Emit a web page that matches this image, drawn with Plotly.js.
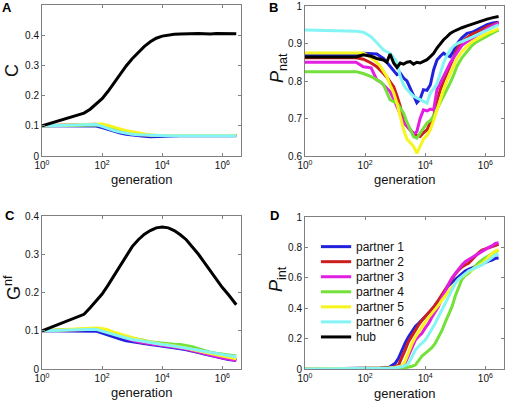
<!DOCTYPE html>
<html>
<head>
<meta charset="utf-8">
<script src="https://cdn.plot.ly/plotly-3.0.1.min.js"></script>
<style>html,body{margin:0;padding:0;background:#fff;}#chart{width:506px;height:403px;}</style>
</head>
<body>
<div id="chart"></div>
<script>
// ---------- DATA ----------
const seriesNames = ["partner 1", "partner 2", "partner 3", "partner 4", "partner 5", "partner 6", "hub"];
const seriesColors = ["#2222dd", "#cc1f1f", "#e31ee3", "#74e03a", "#f6f61e", "#84f4f4", "#000000"];

// Panels A and C: generation grid
const genAC = [1, 25, 40, 63, 100, 160, 250, 400, 630, 1000, 1600, 2500, 4000, 6300, 1e4, 1.6e4, 2.5e4, 4e4, 6.3e4, 1e5, 1.6e5, 2.5e5, 4e5, 6.3e5, 1e6, 1.6e6, 2.5e6, 2.9e6];

// Panel A: C
const aP1 = [0.100,0.100,0.100,0.099,0.094,0.088,0.081,0.076,0.072,0.069,0.066,0.065,0.064,0.065,0.066,0.067,0.067,0.067,0.067,0.067,0.067,0.067,0.067,0.067,0.067,0.067,0.067,0.067];
const aP2 = [0.100,0.102,0.103,0.104,0.100,0.095,0.089,0.083,0.078,0.074,0.071,0.069,0.068,0.068,0.068,0.068,0.068,0.068,0.068,0.068,0.068,0.068,0.068,0.068,0.068,0.068,0.068,0.068];
const aP3 = [0.100,0.102,0.104,0.105,0.102,0.097,0.091,0.085,0.080,0.076,0.073,0.070,0.069,0.068,0.068,0.068,0.068,0.068,0.068,0.068,0.068,0.068,0.068,0.068,0.068,0.068,0.068,0.068];
const aP4 = [0.100,0.103,0.104,0.105,0.103,0.098,0.092,0.086,0.081,0.077,0.073,0.071,0.069,0.068,0.068,0.068,0.068,0.068,0.068,0.068,0.068,0.068,0.068,0.068,0.068,0.068,0.068,0.068];
const aP5 = [0.100,0.104,0.106,0.107,0.106,0.101,0.095,0.089,0.084,0.080,0.076,0.073,0.070,0.069,0.068,0.068,0.068,0.068,0.068,0.068,0.068,0.068,0.068,0.068,0.068,0.068,0.068,0.068];
const aP6 = [0.100,0.104,0.105,0.104,0.098,0.090,0.084,0.079,0.075,0.072,0.070,0.069,0.068,0.067,0.067,0.067,0.067,0.067,0.067,0.067,0.067,0.067,0.067,0.067,0.067,0.067,0.067,0.067];
const aHub = [0.100,0.142,0.155,0.172,0.190,0.215,0.243,0.270,0.298,0.322,0.344,0.362,0.378,0.390,0.397,0.401,0.403,0.404,0.405,0.404,0.406,0.405,0.404,0.406,0.405,0.404,0.405,0.405];

// Panel C: G^nf
const cP1 = [0.100,0.100,0.100,0.099,0.094,0.088,0.082,0.078,0.074,0.071,0.068,0.066,0.064,0.062,0.060,0.058,0.056,0.053,0.050,0.047,0.043,0.039,0.035,0.031,0.028,0.025,0.023,0.022];
const cP2 = [0.100,0.102,0.103,0.104,0.101,0.096,0.090,0.085,0.080,0.076,0.072,0.069,0.067,0.065,0.063,0.061,0.059,0.056,0.053,0.049,0.045,0.041,0.037,0.034,0.031,0.028,0.026,0.025];
const cP3 = [0.100,0.102,0.104,0.105,0.103,0.098,0.092,0.086,0.080,0.075,0.071,0.068,0.066,0.064,0.062,0.060,0.058,0.055,0.052,0.048,0.044,0.040,0.036,0.032,0.029,0.026,0.024,0.023];
const cP4 = [0.100,0.104,0.105,0.105,0.103,0.098,0.093,0.089,0.085,0.081,0.077,0.074,0.071,0.069,0.067,0.066,0.065,0.064,0.062,0.058,0.053,0.048,0.044,0.041,0.039,0.037,0.035,0.034];
const cP5 = [0.100,0.105,0.107,0.107,0.106,0.102,0.096,0.091,0.086,0.081,0.077,0.073,0.070,0.067,0.065,0.063,0.061,0.058,0.055,0.051,0.047,0.043,0.040,0.037,0.034,0.031,0.028,0.027];
const cP6 = [0.100,0.104,0.105,0.104,0.099,0.094,0.089,0.085,0.081,0.077,0.074,0.071,0.068,0.066,0.064,0.062,0.060,0.058,0.055,0.052,0.049,0.046,0.043,0.040,0.037,0.035,0.033,0.032];
const cHub = [0.100,0.143,0.160,0.178,0.196,0.220,0.245,0.272,0.297,0.320,0.338,0.352,0.362,0.369,0.371,0.369,0.362,0.351,0.338,0.320,0.300,0.279,0.256,0.233,0.213,0.194,0.174,0.168];

// Panel B: P_nat
const genB = [1, 50, 87, 158, 245, 316, 407, 525, 676, 891, 1148, 1479, 1905, 2455, 3162, 4074, 5248, 6761, 8710, 11480, 14790, 19050, 24550, 31620, 40740, 52480, 67610, 87100, 114800, 166000, 245500, 363100, 524800, 776200, 1148000, 1778000, 2754000];
const bP1 = [0.870,0.870,0.874,0.873,0.872,0.866,0.860,0.850,0.839,0.828,0.817,0.821,0.808,0.800,0.780,0.759,0.742,0.752,0.777,0.775,0.790,0.830,0.856,0.866,0.874,0.868,0.865,0.880,0.900,0.915,0.927,0.930,0.936,0.944,0.950,0.955,0.957];
const bP2 = [0.862,0.862,0.858,0.848,0.838,0.830,0.820,0.810,0.797,0.785,0.760,0.732,0.690,0.680,0.672,0.660,0.655,0.652,0.662,0.670,0.690,0.706,0.745,0.777,0.800,0.821,0.845,0.865,0.885,0.905,0.915,0.925,0.930,0.938,0.945,0.950,0.955];
const bP3 = [0.850,0.850,0.838,0.835,0.803,0.798,0.790,0.782,0.772,0.752,0.730,0.712,0.690,0.680,0.668,0.658,0.665,0.700,0.723,0.720,0.725,0.723,0.777,0.795,0.812,0.830,0.848,0.862,0.875,0.895,0.905,0.915,0.922,0.930,0.940,0.948,0.955];
const bP4 = [0.825,0.825,0.820,0.812,0.803,0.798,0.790,0.770,0.750,0.745,0.741,0.728,0.714,0.690,0.670,0.652,0.648,0.661,0.672,0.688,0.695,0.706,0.725,0.742,0.760,0.778,0.795,0.815,0.840,0.862,0.880,0.895,0.905,0.912,0.918,0.928,0.936];
const bP5 = [0.875,0.875,0.875,0.862,0.850,0.840,0.826,0.812,0.790,0.768,0.740,0.706,0.670,0.645,0.635,0.626,0.607,0.625,0.645,0.655,0.670,0.695,0.723,0.750,0.777,0.800,0.820,0.840,0.860,0.878,0.893,0.905,0.912,0.920,0.927,0.933,0.940];
const bP6 = [0.936,0.933,0.930,0.918,0.902,0.893,0.883,0.878,0.874,0.862,0.850,0.812,0.790,0.777,0.768,0.759,0.755,0.750,0.745,0.741,0.768,0.780,0.792,0.820,0.848,0.868,0.883,0.893,0.900,0.905,0.910,0.917,0.923,0.930,0.936,0.943,0.950];
const bHub = [0.864,0.864,0.870,0.866,0.860,0.858,0.856,0.850,0.872,0.848,0.836,0.848,0.845,0.850,0.852,0.845,0.850,0.848,0.852,0.857,0.865,0.874,0.888,0.900,0.910,0.918,0.927,0.932,0.937,0.942,0.947,0.952,0.956,0.960,0.965,0.969,0.972];

// Panel D: P_int
const genD = [1, 10, 100, 316, 631, 1000, 1288, 1660, 2138, 2754, 3631, 4677, 6026, 7762, 1e4, 12880, 16600, 21380, 27540, 36310, 46770, 60260, 77620, 1e5, 128800, 166000, 213800, 275400, 363100, 467700, 602600, 776200, 1e6, 1288000, 1660000, 2138000, 2754000];
const dP1 = [0,0.001,0.003,0.006,0.012,0.037,0.070,0.124,0.170,0.210,0.250,0.280,0.300,0.322,0.345,0.370,0.390,0.420,0.450,0.480,0.520,0.550,0.570,0.590,0.610,0.630,0.645,0.655,0.665,0.675,0.685,0.695,0.705,0.710,0.717,0.728,0.730];
const dP2 = [0,0.001,0.003,0.005,0.008,0.015,0.026,0.070,0.124,0.180,0.220,0.257,0.290,0.320,0.344,0.370,0.395,0.420,0.454,0.490,0.530,0.563,0.595,0.625,0.651,0.672,0.685,0.695,0.720,0.745,0.765,0.783,0.790,0.800,0.805,0.815,0.820];
const dP3 = [0,0.001,0.002,0.004,0.006,0.010,0.015,0.022,0.037,0.090,0.147,0.190,0.215,0.235,0.270,0.300,0.340,0.380,0.410,0.470,0.520,0.560,0.600,0.630,0.660,0.685,0.706,0.720,0.735,0.748,0.760,0.775,0.790,0.800,0.810,0.826,0.830];
const dP4 = [0,0.001,0.001,0.002,0.003,0.004,0.005,0.006,0.008,0.012,0.018,0.026,0.060,0.085,0.103,0.120,0.140,0.168,0.210,0.256,0.310,0.360,0.410,0.480,0.540,0.590,0.615,0.630,0.655,0.680,0.700,0.717,0.730,0.745,0.760,0.772,0.780];
const dP5 = [0,0.001,0.002,0.004,0.006,0.010,0.014,0.020,0.050,0.110,0.168,0.210,0.245,0.278,0.310,0.340,0.366,0.390,0.420,0.454,0.485,0.515,0.540,0.565,0.590,0.607,0.625,0.640,0.651,0.665,0.680,0.695,0.715,0.740,0.760,0.775,0.785];
const dP6 = [0,0.001,0.002,0.003,0.005,0.008,0.011,0.015,0.022,0.037,0.080,0.124,0.150,0.170,0.190,0.225,0.260,0.300,0.345,0.390,0.432,0.475,0.520,0.563,0.590,0.610,0.630,0.645,0.655,0.665,0.673,0.685,0.700,0.715,0.730,0.750,0.755];

const xTickVals = [1, 100, 1e4, 1e6];
const xTickText = ["10<sup>0</sup>", "10<sup>2</sup>", "10<sup>4</sup>", "10<sup>6</sup>"];
const panelLetters = ["A", "B", "C", "D"];
const xTitle = "generation";
const yTitles = ["C", "<i>P</i><sub>nat</sub>", "G<sup>nf</sup>", "<i>P</i><sub>int</sub>"];

// ---------- BUILD ----------
const W = 506, H = 403;
const FONT = "Liberation Sans, Arial, Helvetica, sans-serif";
const traces = [];
function addPanel(xs, ys, xa, ya) {
  ys.forEach((y, i) => {
    traces.push({
      x: xs, y: y, xaxis: xa, yaxis: ya, type: "scatter", mode: "lines",
      line: {color: seriesColors[i], width: 3}, showlegend: false, hoverinfo: "skip"
    });
  });
}
addPanel(genAC, [aP1, aP2, aP3, aP4, aP5, aP6, aHub], "x", "y");
addPanel(genB, [bP1, bP2, bP3, bP4, bP5, bP6, bHub], "x2", "y2");
addPanel(genAC, [cP1, cP2, cP3, cP4, cP5, cP6, cHub], "x3", "y3");
addPanel(genD, [dP1, dP2, dP3, dP4, dP5, dP6], "x4", "y4");

// pixel boxes of the four plot areas [left, right, top, bottom]
const boxes = [[42, 241, 5, 156], [305, 504, 6, 156], [42, 241, 216, 369], [305, 504, 217, 369]];
const yRanges = [[0, 0.5], [0.6, 1.0], [0, 0.4], [0, 1]];
const yDticks = [0.1, 0.1, 0.1, 0.2];

const layout = {
  width: W, height: H, margin: {l: 0, r: 0, t: 0, b: 0},
  paper_bgcolor: "#fff", plot_bgcolor: "#fff", showlegend: false,
  font: {family: FONT, color: "#111", size: 10},
  annotations: [], shapes: []
};
const axColor = "#808080";
boxes.forEach((b, i) => {
  const n = i === 0 ? "" : String(i + 1);
  layout["xaxis" + n] = {
    type: "log", range: [0, 6.62], domain: [b[0] / W, b[1] / W], anchor: "y" + n,
    tickvals: xTickVals, ticktext: xTickText, ticks: "inside", ticklen: 3, tickcolor: axColor,
    showline: true, linecolor: axColor, linewidth: 1, mirror: "ticks", showgrid: false, zeroline: false,
    tickfont: {family: FONT, size: 10, color: "#111"}
  };
  layout["yaxis" + n] = {
    range: yRanges[i], dtick: yDticks[i], tick0: 0, domain: [1 - b[3] / H, 1 - b[2] / H], anchor: "x" + n,
    ticks: "inside", ticklen: 3, tickcolor: axColor,
    showline: true, linecolor: axColor, linewidth: 1, mirror: "ticks", showgrid: false, zeroline: false,
    tickfont: {family: FONT, size: 10, color: "#111"}
  };
});

// titles (as positioned text)
const xTitleY = [179, 179, 392, 393];
const yTitlePos = [[12, 71], [278, 68], [12, 288], [277, 279]];
const letterPos = [[7, 8], [273, 8], [10, 215], [274, 216]];
boxes.forEach((b, i) => {
  layout.annotations.push({
    text: xTitle, xref: "paper", yref: "paper", x: ((b[0] + b[1]) / 2) / W, y: 1 - xTitleY[i] / H,
    xanchor: "center", yanchor: "middle", showarrow: false, font: {family: FONT, size: 13, color: "#111"}
  });
  layout.annotations.push({
    text: yTitles[i], xref: "paper", yref: "paper", x: yTitlePos[i][0] / W, y: 1 - yTitlePos[i][1] / H,
    xanchor: "center", yanchor: "middle", textangle: -90, showarrow: false,
    font: {family: FONT, size: 18, color: "#111"}
  });
  layout.annotations.push({
    text: "<b>" + panelLetters[i] + "</b>", xref: "paper", yref: "paper", x: letterPos[i][0] / W, y: 1 - letterPos[i][1] / H,
    xanchor: "center", yanchor: "middle", showarrow: false, font: {family: FONT, size: 13, color: "#000"}
  });
});

// legend inside panel D (built from the series names/colours)
const legTop = 0.805, legStep = 0.099;
seriesNames.forEach((name, i) => {
  const yy = legTop - i * legStep;
  layout.shapes.push({
    type: "line", xref: "x4 domain", yref: "y4 domain", x0: 0.08, x1: 0.232, y0: yy, y1: yy,
    line: {color: seriesColors[i], width: 3}
  });
  layout.annotations.push({
    text: name, xref: "x4 domain", yref: "y4 domain", x: 0.245, y: yy,
    xanchor: "left", yanchor: "middle", showarrow: false, font: {family: FONT, size: 12, color: "#111"}
  });
});

Plotly.newPlot("chart", traces, layout, {staticPlot: true, displayModeBar: false});
</script>
</body>
</html>
